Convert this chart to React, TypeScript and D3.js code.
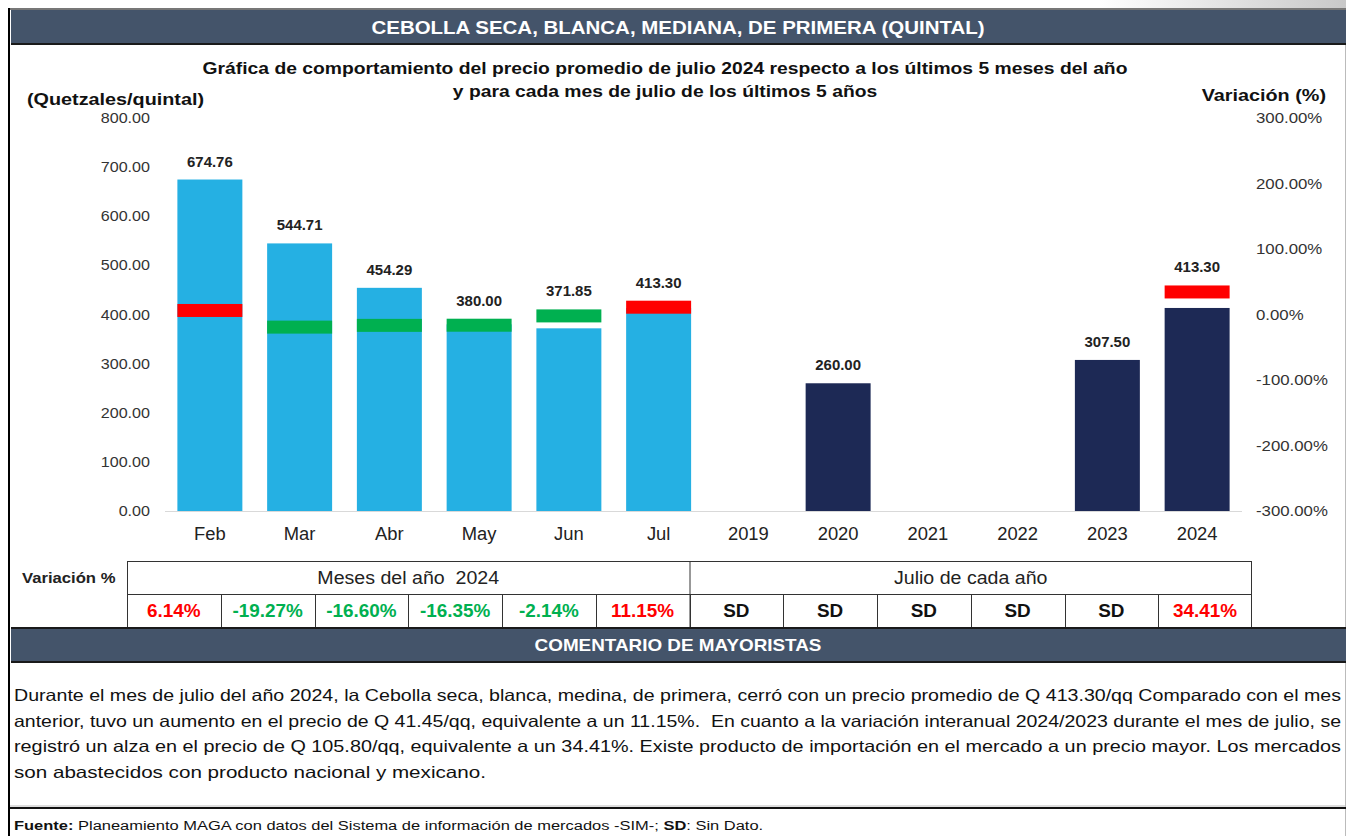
import React from 'react';
import * as d3 from 'd3';

const months = ['Feb', 'Mar', 'Abr', 'May', 'Jun', 'Jul'];
const monthPrices = [674.76, 544.71, 454.29, 380.0, 371.85, 413.3];
const monthVariation = [6.14, -19.27, -16.6, -16.35, -2.14, 11.15];

const years = ['2019', '2020', '2021', '2022', '2023', '2024'];
const yearPrices: (number | null)[] = [null, 260.0, null, null, 307.5, 413.3];
const yearVariation: (number | null)[] = [null, null, null, null, null, 34.41];

const leftTicks = [0, 100, 200, 300, 400, 500, 600, 700, 800];
const rightTicks = [-300, -200, -100, 0, 100, 200, 300];

const commentLines = [
  'Durante el mes de julio del año 2024, la Cebolla seca, blanca, medina, de primera, cerró con un precio promedio de Q 413.30/qq Comparado con el mes',
  'anterior, tuvo un aumento en el precio de Q 41.45/qq, equivalente a un 11.15%.  En cuanto a la variación interanual 2024/2023 durante el mes de julio, se',
  'registró un alza en el precio de Q 105.80/qq, equivalente a un 34.41%. Existe producto de importación en el mercado a un precio mayor. Los mercados',
  'son abastecidos con producto nacional y mexicano.',
];

const W = 1346;
const H = 836;
const FONT = 'Arial, "Liberation Sans", sans-serif';
const LIGHT_BLUE = '#25B0E3';
const NAVY = '#1D2955';
const RED = '#FF0000';
const GREEN = '#00B050';
const SLATE = '#44546A';

const locale = d3.formatLocale({ decimal: '.', thousands: ',', grouping: [3], currency: ['', ''], minus: '-' });
const f2 = locale.format('.2f');
const fmtP = (v: number) => f2(v) + '%';

// text stretched horizontally (the source picture is wider than its type)
const T = ({ x, y, sx = 1, children, ...rest }: any) => (
  <text transform={`translate(${x},${y}) scale(${sx},1)`} style={{ whiteSpace: 'pre' }} {...rest}>
    {children}
  </text>
);

const App = () => {
  const cats = [...months, ...years];
  const x = d3.scaleBand<string>().domain(cats).range([165, 1242]).paddingInner(0.276).paddingOuter(0.138);
  const yL = d3.scaleLinear().domain([0, 800]).range([511, 118]);
  const yR = d3.scaleLinear().domain([-300, 300]).range([511, 118]);
  const tx = d3.scaleBand<string>().domain(cats).range([127, 1252]);

  const bars = [
    ...months.map((c, i) => ({ c, v: monthPrices[i] as number | null, p: monthVariation[i] as number | null, color: LIGHT_BLUE })),
    ...years.map((c, i) => ({ c, v: yearPrices[i], p: yearVariation[i], color: NAVY })),
  ];
  const markerH = 13;
  const bw = x.bandwidth();

  return (
    <svg width={W} height={H} style={{ position: 'absolute', left: 0, top: 0, background: '#fff' }} fontFamily={FONT}>
      <defs>
        <linearGradient id="corner" x1="0" x2="1" y1="0" y2="0">
          <stop offset="0" stopColor="#fff" />
          <stop offset="1" stopColor="#c8c8c8" />
        </linearGradient>
      </defs>
      <rect x={1100} y={0} width={246} height={9} fill="url(#corner)" />
      {/* frame */}
      <line x1={8} x2={W} y1={9} y2={9} stroke="#777" strokeWidth={2} />
      <line x1={9} x2={9} y1={8} y2={H} stroke="#000" strokeWidth={2} />
      <line x1={1345.5} x2={1345.5} y1={44} y2={H} stroke="#bbb" strokeWidth={1} />
      {/* header */}
      <rect x={11} y={10} width={W - 11} height={34} fill={SLATE} />
      <line x1={11} x2={W} y1={44} y2={44} stroke="#1a1a1a" strokeWidth={2} />
      <T x={678} y={34} sx={1.17} textAnchor="middle" fill="#fff" fontWeight="bold" fontSize={17.5}>
        CEBOLLA SECA, BLANCA, MEDIANA, DE PRIMERA (QUINTAL)
      </T>

      {/* titles */}
      <T x={665} y={74} sx={1.17} textAnchor="middle" fontWeight="bold" fontSize={16.5} fill="#111">
        Gráfica de comportamiento del precio promedio de julio 2024 respecto a los últimos 5 meses del año
      </T>
      <T x={665} y={97} sx={1.17} textAnchor="middle" fontWeight="bold" fontSize={16.5} fill="#111">
        y para cada mes de julio de los últimos 5 años
      </T>
      <T x={27} y={105} sx={1.2} fontWeight="bold" fontSize={16.5} fill="#111">(Quetzales/quintal)</T>
      <T x={1326} y={101} sx={1.2} textAnchor="end" fontWeight="bold" fontSize={16.5} fill="#111">Variación (%)</T>

      {/* axes */}
      {leftTicks.map((t) => (
        <T key={'l' + t} x={150} y={yL(t) + 5} sx={1.15} textAnchor="end" fontSize={14} fill="#333">
          {f2(t)}
        </T>
      ))}
      {rightTicks.map((t) => (
        <T key={'r' + t} x={1256} y={yR(t) + 5} sx={1.2} fontSize={14} fill="#333">
          {fmtP(t)}
        </T>
      ))}
      <line x1={165} x2={1242} y1={511.5} y2={511.5} stroke="#d9d9d9" strokeWidth={1} />

      {/* bars */}
      {bars.map((b) =>
        b.v == null ? null : (
          <rect key={'b' + b.c} x={x(b.c)} y={yL(b.v)} width={bw} height={yL(0) - yL(b.v)} fill={b.color} />
        )
      )}
      {bars.map((b) =>
        b.p == null ? null : (
          <rect
            key={'m' + b.c}
            x={x(b.c)}
            y={yR(b.p) - markerH / 2}
            width={bw}
            height={markerH}
            fill={b.p >= 0 ? RED : GREEN}
          />
        )
      )}
      {bars.map((b) => {
        if (b.v == null) return null;
        const top = Math.min(yL(b.v), b.p == null ? Infinity : yR(b.p) - markerH / 2);
        return (
          <T key={'t' + b.c} x={(x(b.c) as number) + bw / 2} y={top - 13} sx={1.07} textAnchor="middle" fontWeight="bold" fontSize={14} fill="#222">
            {f2(b.v)}
          </T>
        );
      })}
      {cats.map((c) => (
        <T key={'c' + c} x={(x(c) as number) + bw / 2} y={540} sx={1.05} textAnchor="middle" fontSize={17.5} fill="#222">
          {c}
        </T>
      ))}

      {/* variation table */}
      <T x={22} y={583} sx={1.19} fontWeight="bold" fontSize={14} fill="#222">Variación %</T>
      <rect x={127.5} y={561.5} width={1124} height={66} fill="none" stroke="#333" strokeWidth={1} />
      <line x1={127} x2={1252} y1={594.5} y2={594.5} stroke="#333" />
      <line x1={(tx('2019') as number) + 0.5} x2={(tx('2019') as number) + 0.5} y1={561} y2={628} stroke="#333" />
      {cats.slice(1).map((c) => (
        <line key={'v' + c} x1={Math.round(tx(c) as number) + 0.5} x2={Math.round(tx(c) as number) + 0.5} y1={594} y2={628} stroke="#333" />
      ))}
      <T x={((tx('Feb') as number) + (tx('2019') as number)) / 2} y={584} sx={1.12} textAnchor="middle" fontSize={17.5} fill="#222">
        Meses del año  2024
      </T>
      <T x={((tx('2019') as number) + 1252) / 2} y={584} sx={1.12} textAnchor="middle" fontSize={17.5} fill="#222">
        Julio de cada año
      </T>
      {bars.map((b) => (
        <T
          key={'p' + b.c}
          x={(tx(b.c) as number) + tx.bandwidth() / 2}
          y={617}
          sx={1.08}
          textAnchor="middle"
          fontWeight="bold"
          fontSize={17.5}
          fill={b.p == null ? '#111' : b.p >= 0 ? RED : GREEN}
        >
          {b.p == null ? 'SD' : fmtP(b.p)}
        </T>
      ))}

      {/* comment */}
      <rect x={11} y={628} width={W - 11} height={34} fill={SLATE} />
      <line x1={11} x2={W} y1={628} y2={628} stroke="#1a1a1a" strokeWidth={2} />
      <line x1={11} x2={W} y1={662} y2={662} stroke="#1a1a1a" strokeWidth={2} />
      <T x={678} y={651} sx={1.18} textAnchor="middle" fill="#fff" fontWeight="bold" fontSize={16}>
        COMENTARIO DE MAYORISTAS
      </T>
      {commentLines.map((l, i) =>
        i < commentLines.length - 1 ? (
          <text
            key={'cl' + i}
            x={14}
            y={701 + i * 25.5}
            fontSize={16.5}
            fill="#111"
            textLength={1327}
            lengthAdjust="spacingAndGlyphs"
            style={{ whiteSpace: 'pre' }}
          >
            {l}
          </text>
        ) : (
          <T key={'cl' + i} x={14} y={701 + i * 25.5} sx={1.25} fontSize={16.5} fill="#111">
            {l}
          </T>
        )
      )}
      <line x1={10} x2={W} y1={806} y2={806} stroke="#bbb" strokeWidth={1} />
      <line x1={10} x2={W} y1={808} y2={808} stroke="#111" strokeWidth={2} />
      <T x={14} y={830} sx={1.22} fontSize={13.5} fill="#111">
        <tspan fontWeight="bold">Fuente:</tspan> Planeamiento MAGA con datos del Sistema de información de mercados -SIM-; <tspan fontWeight="bold">SD</tspan>: Sin Dato.
      </T>
    </svg>
  );
};

export default App;
